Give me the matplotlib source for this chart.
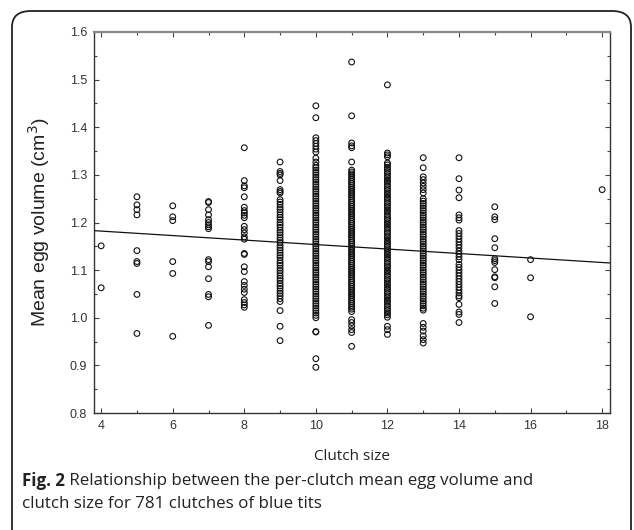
import matplotlib
matplotlib.use("Agg")
import matplotlib.pyplot as plt
from matplotlib.patches import FancyBboxPatch
from matplotlib.ticker import MultipleLocator

# ---- data ----
clutch_sizes = [4, 5, 6, 7, 8, 9, 10, 11, 12, 13, 14, 15, 16, 18]

vol_4 = [1.151, 1.063]
vol_5 = [1.254, 1.237, 1.227, 1.216, 1.141, 1.118, 1.114, 1.049, 0.967]
vol_6 = [1.235, 1.212, 1.204, 1.118, 1.093, 0.961]
vol_7 = [1.244, 1.242, 1.227, 1.216, 1.206, 1.200, 1.195, 1.191, 1.187,
         1.122, 1.118, 1.107, 1.082, 1.049, 1.044, 0.984]
vol_8 = [1.357, 1.288, 1.277, 1.273, 1.254, 1.232, 1.225, 1.220, 1.215, 1.210,
         1.192, 1.185, 1.178, 1.170, 1.165, 1.135, 1.133, 1.107, 1.097, 1.076,
         1.068, 1.060, 1.053, 1.038, 1.032, 1.027, 1.022]
vol_9 = [1.327, 1.307, 1.303, 1.300, 1.288, 1.269, 1.265, 1.262,
         1.248, 1.243, 1.238, 1.232, 1.227, 1.222, 1.216, 1.211, 1.206, 1.200,
         1.195, 1.190, 1.184, 1.179, 1.174, 1.168, 1.163, 1.158, 1.152, 1.147,
         1.142, 1.136, 1.131, 1.126, 1.120, 1.115, 1.110, 1.104, 1.099, 1.094,
         1.088, 1.083, 1.078, 1.072, 1.067, 1.062, 1.056, 1.051, 1.046, 1.040,
         1.034, 1.015, 0.982, 0.952]
vol_10 = [1.445, 1.420, 1.378, 1.372, 1.366, 1.360, 1.354, 1.348, 1.335, 1.327,
          1.320, 1.315, 1.310, 1.305, 1.300, 1.295, 1.290, 1.285, 1.280, 1.275,
          1.270, 1.265, 1.260, 1.255, 1.250, 1.245, 1.240, 1.235, 1.230, 1.225,
          1.220, 1.215, 1.210, 1.205, 1.200, 1.195, 1.190, 1.185, 1.180, 1.175,
          1.170, 1.165, 1.160, 1.155, 1.150, 1.145, 1.140, 1.135, 1.130, 1.125,
          1.120, 1.115, 1.110, 1.105, 1.100, 1.095, 1.090, 1.085, 1.080, 1.075,
          1.070, 1.065, 1.060, 1.055, 1.050, 1.045, 1.040, 1.035, 1.030, 1.025,
          1.020, 1.015, 1.010, 1.005, 1.000, 0.971, 0.970, 0.914, 0.896]
vol_11 = [1.537, 1.424, 1.367, 1.361, 1.357, 1.327,
          1.310, 1.306, 1.302, 1.298, 1.294, 1.290, 1.286, 1.282, 1.278, 1.274,
          1.270, 1.266, 1.262, 1.258, 1.254, 1.250, 1.246, 1.242, 1.238, 1.234,
          1.230, 1.226, 1.222, 1.218, 1.214, 1.210, 1.206, 1.202, 1.198, 1.194,
          1.190, 1.186, 1.182, 1.178, 1.174, 1.170, 1.166, 1.162, 1.158, 1.154,
          1.150, 1.146, 1.142, 1.138, 1.134, 1.130, 1.126, 1.122, 1.118, 1.114,
          1.110, 1.106, 1.102, 1.098, 1.094, 1.090, 1.086, 1.082, 1.078, 1.074,
          1.070, 1.066, 1.062, 1.058, 1.054, 1.050, 1.046, 1.042, 1.038, 1.034,
          1.030, 1.026, 1.022, 1.018, 1.013, 0.996, 0.990, 0.983, 0.975, 0.969,
          0.940]
vol_12 = [1.489, 1.346, 1.342, 1.338,
          1.325, 1.321, 1.316, 1.312, 1.307, 1.303, 1.298, 1.294, 1.289, 1.285,
          1.280, 1.276, 1.271, 1.267, 1.262, 1.258, 1.253, 1.249, 1.244, 1.240,
          1.235, 1.231, 1.226, 1.222, 1.217, 1.213, 1.208, 1.204, 1.199, 1.195,
          1.190, 1.186, 1.181, 1.177, 1.172, 1.168, 1.163, 1.159, 1.154, 1.150,
          1.145, 1.141, 1.136, 1.132, 1.127, 1.123, 1.118, 1.114, 1.109, 1.105,
          1.100, 1.096, 1.091, 1.087, 1.082, 1.078, 1.073, 1.069, 1.064, 1.060,
          1.055, 1.051, 1.046, 1.042, 1.037, 1.033, 1.028, 1.024, 1.019, 1.015,
          1.010, 1.006, 1.001, 0.982, 0.975, 0.965]
vol_13 = [1.336, 1.315, 1.296, 1.290, 1.283, 1.276, 1.269, 1.262,
          1.250, 1.245, 1.240, 1.235, 1.230, 1.225, 1.220, 1.215, 1.210, 1.205,
          1.200, 1.195, 1.190, 1.185, 1.180, 1.175, 1.170, 1.165, 1.160, 1.155,
          1.150, 1.145, 1.140, 1.135, 1.130, 1.125, 1.120, 1.115, 1.110, 1.105,
          1.100, 1.095, 1.090, 1.085, 1.080, 1.075, 1.070, 1.065, 1.060, 1.055,
          1.050, 1.045, 1.040, 1.035, 1.030, 1.025, 1.020, 1.016,
          0.988, 0.980, 0.972, 0.962, 0.954, 0.947]
vol_14 = [1.336, 1.292, 1.268, 1.252, 1.216, 1.210, 1.205, 1.183, 1.177, 1.171,
          1.165, 1.159, 1.153, 1.147, 1.140, 1.134, 1.128, 1.122, 1.112, 1.106,
          1.100, 1.094, 1.088, 1.082, 1.076, 1.070, 1.064, 1.058, 1.052, 1.046,
          1.042, 1.028, 1.012, 1.007, 0.990]
vol_15 = [1.233, 1.212, 1.206, 1.166, 1.147, 1.124, 1.120, 1.116, 1.101,
          1.086, 1.084, 1.065, 1.030]
vol_16 = [1.122, 1.084, 1.002]
vol_18 = [1.269]

volumes = [vol_4, vol_5, vol_6, vol_7, vol_8, vol_9, vol_10, vol_11, vol_12,
           vol_13, vol_14, vol_15, vol_16, vol_18]

# regression line: volume = intercept + slope * clutch size
fit_intercept = 1.2008
fit_slope = -0.00471

x_ticks = [4, 6, 8, 10, 12, 14, 16, 18]
y_ticks = [0.8, 0.9, 1.0, 1.1, 1.2, 1.3, 1.4, 1.5, 1.6]

x_label = "Clutch size"
y_label = "Mean egg volume (cm$^3$)"
caption_bold = "Fig. 2"
caption_line1 = " Relationship between the per-clutch mean egg volume and"
caption_line2 = "clutch size for 781 clutches of blue tits"

# ---- figure ----
W, H = 634, 530
fig = plt.figure(figsize=(W / 100, H / 100), dpi=100)
fig.patch.set_facecolor("white")

# rounded frame around the figure panel
frame = FancyBboxPatch((12 / W, -20 / H), (631 - 12) / W, (519 + 20) / H,
                       boxstyle="round,pad=0,rounding_size=0.03",
                       transform=fig.transFigure, fill=False,
                       edgecolor="#222222", linewidth=1.3, clip_on=False)
fig.patches.append(frame)

ax = fig.add_axes([94 / W, 1 - 413 / H, (610 - 94) / W, (413 - 32) / H])

xs, ys = [], []
for c, vals in zip(clutch_sizes, volumes):
    xs.extend([c] * len(vals))
    ys.extend(vals)
ax.scatter(xs, ys, s=17, facecolors="none", edgecolors="#111111",
           linewidths=0.8, zorder=3)

xlim = (3.8, 18.22)
ax.set_xlim(*xlim)
ax.set_ylim(0.8, 1.6)
ax.plot(list(xlim), [fit_intercept + fit_slope * xlim[0],
                     fit_intercept + fit_slope * xlim[1]],
        color="#111111", linewidth=0.9, zorder=4)

ax.set_xticks(x_ticks)
ax.set_xticklabels([str(t) for t in x_ticks])
ax.xaxis.set_minor_locator(MultipleLocator(1))
ax.set_yticks(y_ticks)
ax.set_yticklabels([f"{t:.1f}" for t in y_ticks])
ax.yaxis.set_minor_locator(MultipleLocator(0.05))

for lab in ax.get_xticklabels() + ax.get_yticklabels():
    lab.set_fontfamily("Liberation Sans")
    lab.set_fontsize(9)
    lab.set_color("#333333")

ax.tick_params(which="both", direction="in", top=True, right=True,
               color="#444444", width=0.8)
ax.tick_params(which="major", length=3.5, pad=5)
ax.tick_params(which="minor", length=2.5)

for side in ["left", "bottom", "right"]:
    ax.spines[side].set_color("#333333")
    ax.spines[side].set_linewidth(1.0)
ax.spines["top"].set_color("#888888")
ax.spines["top"].set_linewidth(1.6)

ax.set_ylabel(y_label, fontfamily="Liberation Sans", fontsize=14,
              color="#222222", labelpad=13)
fig.text(352 / W, 1 - 457 / H, x_label, ha="center", va="center",
         fontfamily="Open Sans", fontsize=11, color="#222222")

# caption
cap_size = 12.2
t1 = fig.text(22 / W, 1 - 481 / H, caption_bold, ha="left", va="center",
              fontfamily="Open Sans", fontweight="bold", fontsize=cap_size,
              color="#222222")
fig.canvas.draw()
bb = t1.get_window_extent()
fig.text(bb.x1 / W, 1 - 481 / H, caption_line1, ha="left", va="center",
         fontfamily="Open Sans", fontsize=cap_size, color="#222222")
fig.text(22 / W, 1 - 504 / H, caption_line2, ha="left", va="center",
         fontfamily="Open Sans", fontsize=cap_size, color="#222222")

fig.savefig("out.png", dpi=100, facecolor="white")
